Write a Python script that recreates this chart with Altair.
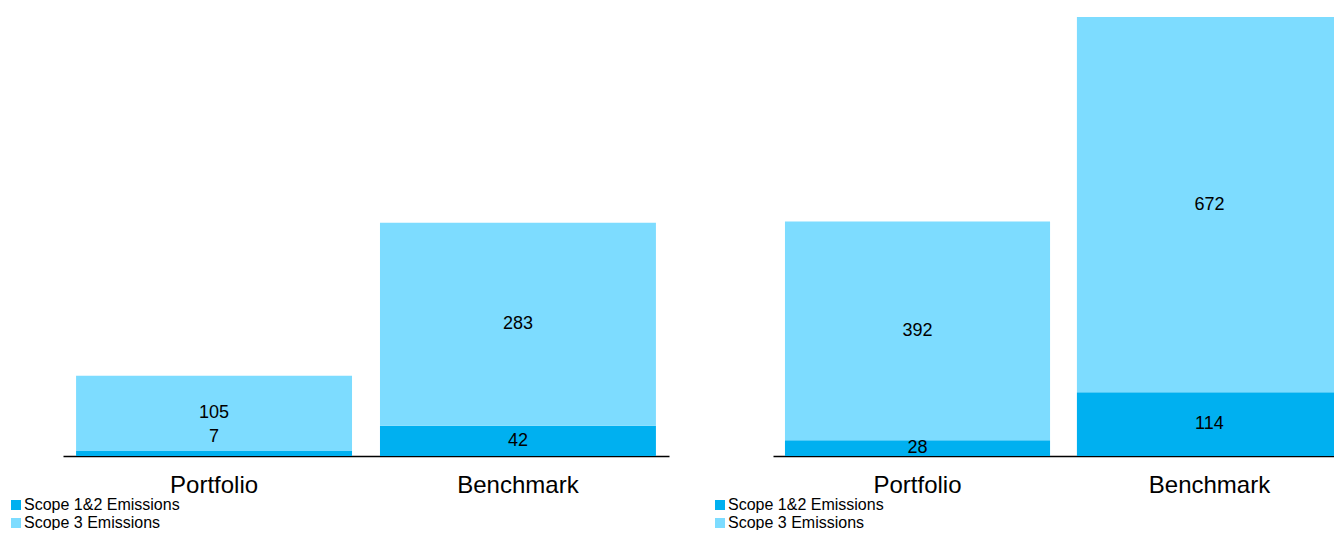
import altair as alt
import pandas as pd

groups = ["Portfolio", "Benchmark"]
series = ["Scope 1&2 Emissions", "Scope 3 Emissions"]
colors = ["#00B0F0", "#7DDCFF"]

left_scope12 = [7, 42]
left_scope3 = [105, 283]
right_scope12 = [28, 114]
right_scope3 = [392, 672]


def make_df(s12, s3):
    rows = []
    for g, a, b in zip(groups, s12, s3):
        rows.append(dict(Group=g, Series=series[0], Value=a, Order=0))
        rows.append(dict(Group=g, Series=series[1], Value=b, Order=1))
    return pd.DataFrame(rows)


def panel(df, width, ymax, legend_x, pad_outer, align):
    base = alt.Chart(df).transform_window(
        cum="sum(Value)", groupby=["Group"], sort=[alt.SortField("Order")], frame=[None, 0]
    ).transform_calculate(
        start="datum.cum - datum.Value", mid="datum.cum - datum.Value / 2"
    )
    xscale = alt.Scale(paddingInner=0.092, paddingOuter=pad_outer, align=align)
    x = alt.X(
        "Group:N", sort=groups, title=None, scale=xscale,
        axis=alt.Axis(
            labelAngle=0, labelFontSize=24, labelColor="black", ticks=False,
            domainColor="black", domainWidth=1.5, labelPadding=17, grid=False,
            labelFont="Liberation Sans",
        ),
    )
    yscale = alt.Scale(domain=[0, ymax], nice=False)
    bars = base.mark_bar().encode(
        x=x,
        y=alt.Y("start:Q", scale=yscale, axis=None),
        y2="cum:Q",
        color=alt.Color(
            "Series:N", scale=alt.Scale(domain=series, range=colors),
            legend=alt.Legend(
                title=None, orient="none", legendX=legend_x, legendY=480,
                symbolType="square", symbolSize=100, symbolStrokeWidth=0,
                labelFontSize=16, labelColor="black", labelOffset=0,
                rowPadding=2, direction="vertical", labelFont="Liberation Sans",
                labelLimit=400, padding=0,
            ),
        ),
    )
    text = base.transform_filter("datum.Value >= 10").mark_text(
        fontSize=18, baseline="middle", color="black", font="Liberation Sans"
    ).encode(
        x=alt.X("Group:N", sort=groups),
        y=alt.Y("mid:Q", scale=yscale),
        text="Value:Q",
    )
    text_small = base.transform_filter("datum.Value < 10").mark_text(
        fontSize=18, baseline="middle", color="black", dy=-16, font="Liberation Sans"
    ).encode(
        x=alt.X("Group:N", sort=groups),
        y=alt.Y("mid:Q", scale=yscale),
        text="Value:Q",
    )
    return alt.layer(bars, text, text_small).properties(width=width, height=439)


left = panel(make_df(left_scope12, left_scope3), 606, 612, -55, 0.043, 0.5)
right = panel(make_df(right_scope12, right_scope3), 569, 786, -61, 0.0205, 1)

chart = alt.hconcat(left, right, spacing=43).resolve_scale(
    x="independent", y="independent", color="independent"
).resolve_legend(color="independent").properties(
    padding={"left": 0, "top": 9, "right": -8, "bottom": -1}
).configure(font="Liberation Sans").configure_view(stroke=None)

chart.save("out.html", embed_options={"renderer": "svg", "actions": False})
